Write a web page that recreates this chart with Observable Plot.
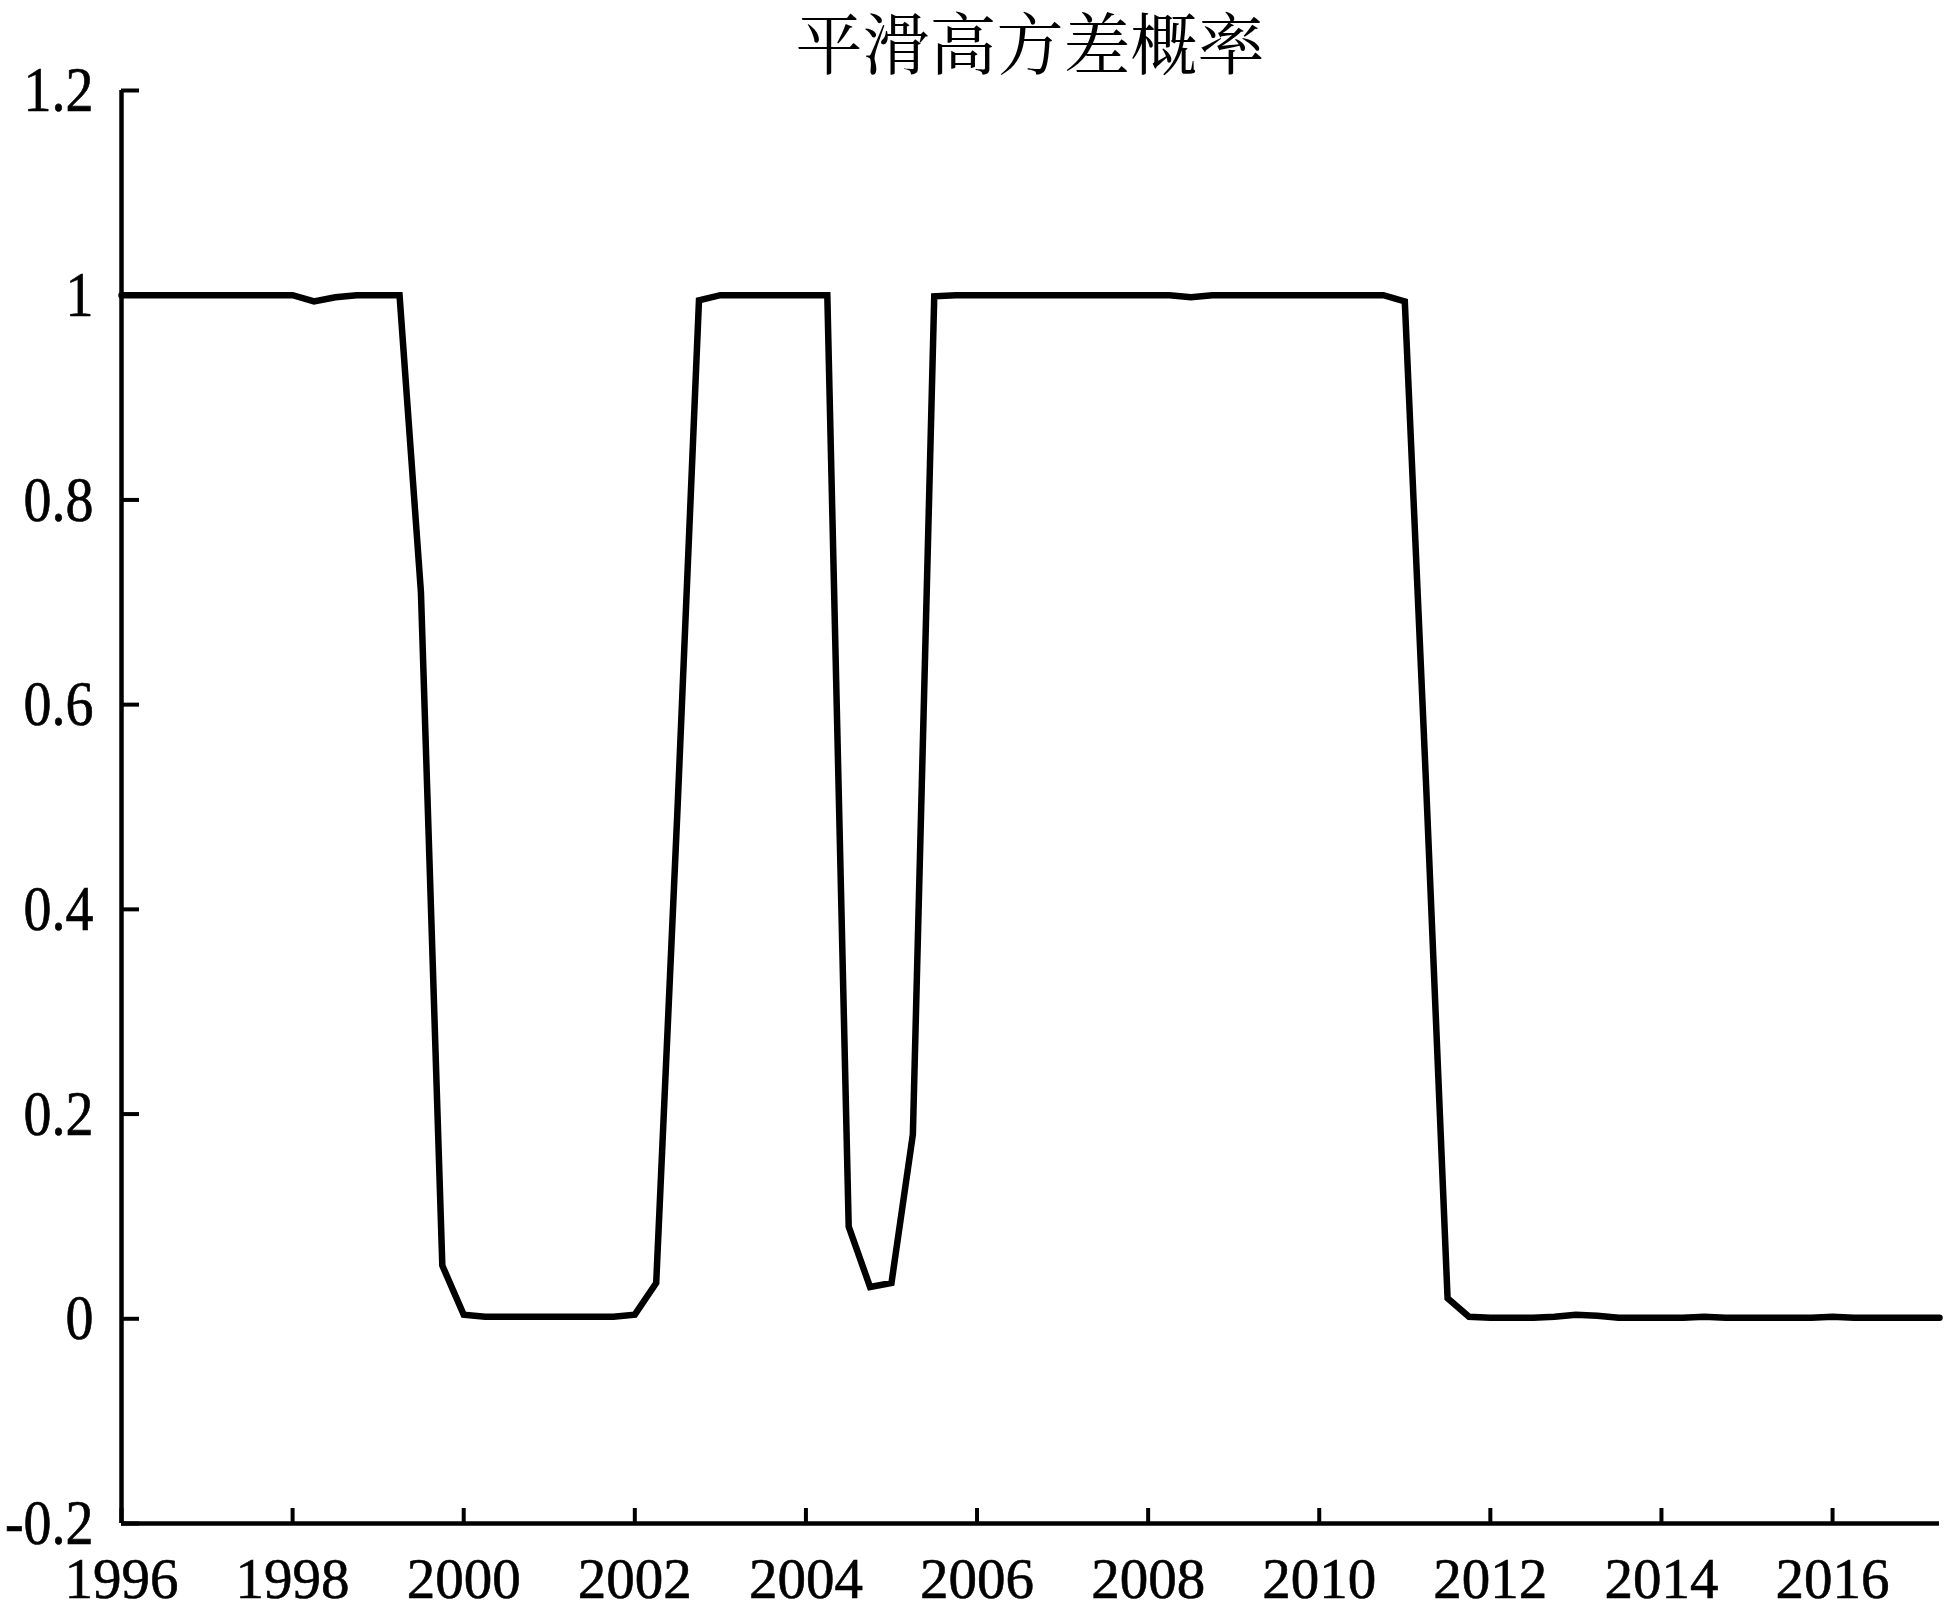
<!DOCTYPE html>
<html>
<head>
<meta charset="utf-8">
<script src="https://cdn.jsdelivr.net/npm/d3@7"></script>
<script src="https://cdn.jsdelivr.net/npm/@observablehq/plot@0.6"></script>
<style>
  html, body { margin: 0; padding: 0; background: #fff; }
  #wrap { position: relative; width: 1944px; height: 1612px; }
  #chart svg { display: block; }
  #title {
    position: absolute; top: 0; left: 121px; width: 1818px; height: 80px;
    text-align: center; font-size: 67px; line-height: 80px; color: #000;
    font-family: 'Noto Serif CJK SC', 'Noto Sans CJK SC', serif;
  }
</style>
</head>
<body>
<div id="wrap">
  <div id="chart"></div>
  <div id="title"></div>
</div>
<script>
// Title
const chartTitle = "平滑高方差概率";

// Quarterly periods 1996Q1 .. 2017Q2
const quarters = [
  "1996Q1","1996Q2","1996Q3","1996Q4","1997Q1","1997Q2","1997Q3","1997Q4",
  "1998Q1","1998Q2","1998Q3","1998Q4","1999Q1","1999Q2","1999Q3","1999Q4",
  "2000Q1","2000Q2","2000Q3","2000Q4","2001Q1","2001Q2","2001Q3","2001Q4",
  "2002Q1","2002Q2","2002Q3","2002Q4","2003Q1","2003Q2","2003Q3","2003Q4",
  "2004Q1","2004Q2","2004Q3","2004Q4","2005Q1","2005Q2","2005Q3","2005Q4",
  "2006Q1","2006Q2","2006Q3","2006Q4","2007Q1","2007Q2","2007Q3","2007Q4",
  "2008Q1","2008Q2","2008Q3","2008Q4","2009Q1","2009Q2","2009Q3","2009Q4",
  "2010Q1","2010Q2","2010Q3","2010Q4","2011Q1","2011Q2","2011Q3","2011Q4",
  "2012Q1","2012Q2","2012Q3","2012Q4","2013Q1","2013Q2","2013Q3","2013Q4",
  "2014Q1","2014Q2","2014Q3","2014Q4","2015Q1","2015Q2","2015Q3","2015Q4",
  "2016Q1","2016Q2","2016Q3","2016Q4","2017Q1","2017Q2"
];

// Smoothed high-variance regime probability
const probability = [
  1.000, 1.000, 1.000, 1.000, 1.000, 1.000, 1.000, 1.000,
  1.000, 0.994, 0.998, 1.000, 1.000, 1.000, 0.710, 0.052,
  0.004, 0.002, 0.002, 0.002, 0.002, 0.002, 0.002, 0.002,
  0.004, 0.035, 0.500, 0.995, 1.000, 1.000, 1.000, 1.000,
  1.000, 1.000, 0.090, 0.031, 0.035, 0.180, 0.999, 1.000,
  1.000, 1.000, 1.000, 1.000, 1.000, 1.000, 1.000, 1.000,
  1.000, 1.000, 0.998, 1.000, 1.000, 1.000, 1.000, 1.000,
  1.000, 1.000, 1.000, 1.000, 0.994, 0.520, 0.020, 0.002,
  0.001, 0.001, 0.001, 0.002, 0.004, 0.003, 0.001, 0.001,
  0.001, 0.001, 0.002, 0.001, 0.001, 0.001, 0.001, 0.001,
  0.002, 0.001, 0.001, 0.001, 0.001, 0.001
];

// Axis tick values
const xTicks = [1996, 1998, 2000, 2002, 2004, 2006, 2008, 2010, 2012, 2014, 2016];
const yTicks = [-0.2, 0, 0.2, 0.4, 0.6, 0.8, 1, 1.2];
const xDomain = [1996, 2017.25];
const yDomain = [-0.2, 1.2];

const data = quarters.map((q, i) => ({
  t: +q.slice(0, 4) + (+q.slice(5) - 1) / 4,
  p: probability[i]
}));

const serif = "'Liberation Serif', 'Times New Roman', serif";

const chart = Plot.plot({
  width: 1944,
  height: 1612,
  marginLeft: 121,
  marginRight: 5,
  marginTop: 90,
  marginBottom: 89,
  style: { fontFamily: serif, fontSize: "56px", color: "#000", background: "#fff" },
  x: { domain: xDomain, label: null },
  y: { domain: yDomain, label: null },
  marks: [
    Plot.axisX({
      ticks: xTicks,
      tickFormat: d => String(d),
      tickSize: -15,
      tickPadding: 49,
      strokeWidth: 4,
      fontSize: 57,
      label: null
    }),
    Plot.axisY({
      ticks: yTicks,
      tickFormat: d => String(+d.toFixed(1)),
      tickSize: -18,
      tickPadding: 46,
      strokeWidth: 4,
      fontSize: 56,
      label: null
    }),
    Plot.ruleX([xDomain[0]], { y1: yDomain[0], y2: yDomain[1], stroke: "#000", strokeWidth: 4.5 }),
    Plot.ruleY([yDomain[0]], { stroke: "#000", strokeWidth: 4.5 }),
    Plot.line(data, {
      x: "t", y: "p",
      stroke: "#000", strokeWidth: 6.5,
      strokeLinejoin: "miter", strokeMiterlimit: 3
    })
  ]
});

// Heavier tick labels; y labels slightly taller like the reference's condensed serif digits
chart.querySelectorAll('g[aria-label="x-axis tick label"] text, g[aria-label="y-axis tick label"] text').forEach(t => {
  t.setAttribute("stroke", "#000");
  t.setAttribute("stroke-width", "0.6");
});
chart.querySelectorAll('g[aria-label="y-axis tick label"] text').forEach(t => {
  const tr = t.getAttribute("transform");
  if (tr) t.setAttribute("transform", tr + " scale(1,1.15)");
});

document.getElementById("chart").appendChild(chart);
document.getElementById("title").textContent = chartTitle;
</script>
</body>
</html>
